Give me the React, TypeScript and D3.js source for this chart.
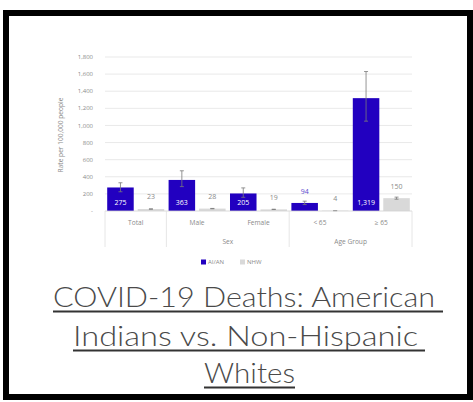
import React from 'react';
import * as d3 from 'd3';

// chart data
const categories = ['Total', 'Male', 'Female', '< 65', '≥ 65'];
const categoryGroups = ['', 'Sex', 'Sex', 'Age Group', 'Age Group'];
const seriesNames = ['AI/AN', 'NHW'];
const aianValues = [275, 363, 205, 94, 1319];
const nhwValues = [23, 28, 19, 4, 150];
const aianLow = [225, 285, 160, 75, 1050];
const aianHigh = [330, 470, 270, 115, 1630];
const nhwLow = [21, 26, 17, 3, 138];
const nhwHigh = [25, 30, 21, 5, 162];
const yTicks = [0, 200, 400, 600, 800, 1000, 1200, 1400, 1600, 1800];
const titleLines = ['COVID-19 Deaths: American', 'Indians vs. Non-Hispanic', 'Whites'];

const BLUE = '#2200c0';
const GREY = '#d9d9d9';
const TXT = '#8a8a8a';
const FONT = '"Open Sans", "DejaVu Sans", sans-serif';
const TITLE_FONT = 'Lato, "Open Sans", sans-serif';

export default function App() {
  const plotLeft = 105;
  const plotRight = 412;
  const y = d3.scaleLinear().domain([0, 1800]).range([211, 57]);
  const x0 = d3.scaleBand<string>().domain(categories).range([plotLeft, plotRight]);
  const x1 = d3.scaleBand<string>().domain(seriesNames).range([0, x0.bandwidth()])
    .paddingInner(0.13).paddingOuter(0.072);
  const fmt = d3.format(',');
  const base = y(0);

  const series = [
    { name: 'AI/AN', values: aianValues, low: aianLow, high: aianHigh, color: BLUE },
    { name: 'NHW', values: nhwValues, low: nhwLow, high: nhwHigh, color: GREY },
  ];

  // group spans for second tier of the axis
  const groups: { label: string; start: number; end: number }[] = [];
  categories.forEach((c, i) => {
    const g = categoryGroups[i];
    const last = groups[groups.length - 1];
    const s = x0(c)!;
    const e = s + x0.bandwidth();
    if (last && last.label === g && g !== '') last.end = e;
    else groups.push({ label: g, start: s, end: e });
  });
  const separators = [plotLeft, ...groups.map((g) => g.end)];

  const titleWidths = [382, 345, 91];
  const underlineEnds = [443, 425, 295];
  const titleBaselines = [307, 346, 383];

  return (
    <div style={{ position: 'absolute', left: 0, top: 0 }}>
      <svg width={473} height={402} style={{ display: 'block', background: '#fff' }}>
        {/* gridlines + y ticks */}
        {yTicks.map((t) => (
          <g key={t}>
            {t > 0 && (
              <line x1={plotLeft} x2={plotRight} y1={y(t)} y2={y(t)} stroke="#e3e3e3" strokeWidth={0.8} />
            )}
            <text x={93} y={y(t)} dy="0.35em" textAnchor="end" fontFamily={FONT} fontSize={6} fill={TXT}>
              {t === 0 ? '-' : fmt(t)}
            </text>
          </g>
        ))}
        <text
          transform={`translate(63,135) rotate(-90)`}
          textAnchor="middle"
          fontFamily={FONT}
          fontSize={6.6}
          fill={TXT}
        >
          Rate per 100,000 people
        </text>

        {/* bars */}
        {series.map((s) =>
          categories.map((c, i) => {
            const bx = x0(c)! + x1(s.name)!;
            const bw = x1.bandwidth();
            const top = y(s.values[i]);
            const cx = bx + bw / 2;
            const h = base - top;
            let label;
            if (s.name === 'AI/AN') {
              label = h > 12 ? (
                <text x={cx} y={base - 8} dy="0.35em" textAnchor="middle" fontFamily={FONT} fontSize={7} fill="#fff">
                  {fmt(s.values[i])}
                </text>
              ) : (
                <text x={cx} y={top - 11} dy="0.35em" textAnchor="middle" fontFamily={FONT} fontSize={7} fill={BLUE} opacity={0.75}>
                  {fmt(s.values[i])}
                </text>
              );
            } else {
              label = (
                <text x={cx} y={top - 12} dy="0.35em" textAnchor="middle" fontFamily={FONT} fontSize={7} fill={TXT}>
                  {fmt(s.values[i])}
                </text>
              );
            }
            return (
              <g key={s.name + c}>
                <rect x={bx} y={top} width={bw} height={h} fill={s.color} />
                <line x1={cx} x2={cx} y1={y(s.high[i])} y2={y(s.low[i])} stroke="#7a7a7a" strokeWidth={0.8} />
                <line x1={cx - 2} x2={cx + 2} y1={y(s.high[i])} y2={y(s.high[i])} stroke="#7a7a7a" strokeWidth={0.8} />
                <line x1={cx - 2} x2={cx + 2} y1={y(s.low[i])} y2={y(s.low[i])} stroke="#7a7a7a" strokeWidth={0.8} />
                {label}
              </g>
            );
          })
        )}

        {/* category axis */}
        <line x1={plotLeft} x2={plotRight} y1={base} y2={base} stroke="#d0d0d0" strokeWidth={0.8} />
        {separators.map((sx, i) => (
          <line key={i} x1={sx} x2={sx} y1={base} y2={247} stroke="#e0e0e0" strokeWidth={0.8} />
        ))}
        {categories.map((c) => (
          <text
            key={c}
            x={x0(c)! + x0.bandwidth() / 2}
            y={223}
            dy="0.35em"
            textAnchor="middle"
            fontFamily={FONT}
            fontSize={6.6}
            fill={TXT}
          >
            {c}
          </text>
        ))}
        {groups.map((g, i) => (
          <text key={i} x={(g.start + g.end) / 2} y={242} dy="0.35em" textAnchor="middle" fontFamily={FONT} fontSize={6.6} fill={TXT}>
            {g.label}
          </text>
        ))}

        {/* legend */}
        <rect x={201} y={259.5} width={5} height={5} fill={BLUE} />
        <text x={208} y={262} dy="0.35em" fontFamily={FONT} fontSize={6} fill={TXT}>
          {seriesNames[0]}
        </text>
        <rect x={240} y={259.5} width={5} height={5} fill={GREY} />
        <text x={247} y={262} dy="0.35em" fontFamily={FONT} fontSize={6} fill={TXT}>
          {seriesNames[1]}
        </text>

        {/* title link */}
        {titleLines.map((t, i) => {
          const x = i === 0 ? 53 : i === 1 ? 73 : 204;
          return (
            <g key={t}>
              <text
                x={x}
                y={titleBaselines[i]}
                fontFamily={TITLE_FONT}
                fontWeight={300}
                fontSize={27}
                fill="#4a4a4a"
                textLength={titleWidths[i]}
                lengthAdjust="spacingAndGlyphs"
              >
                {t}
              </text>
              <line
                x1={x}
                x2={underlineEnds[i]}
                y1={titleBaselines[i] + 4.5}
                y2={titleBaselines[i] + 4.5}
                stroke="#333"
                strokeWidth={2}
              />
            </g>
          );
        })}

        {/* frame */}
        <rect x={6} y={13} width={464} height={384} fill="none" stroke="#000" strokeWidth={6} />
      </svg>
    </div>
  );
}
